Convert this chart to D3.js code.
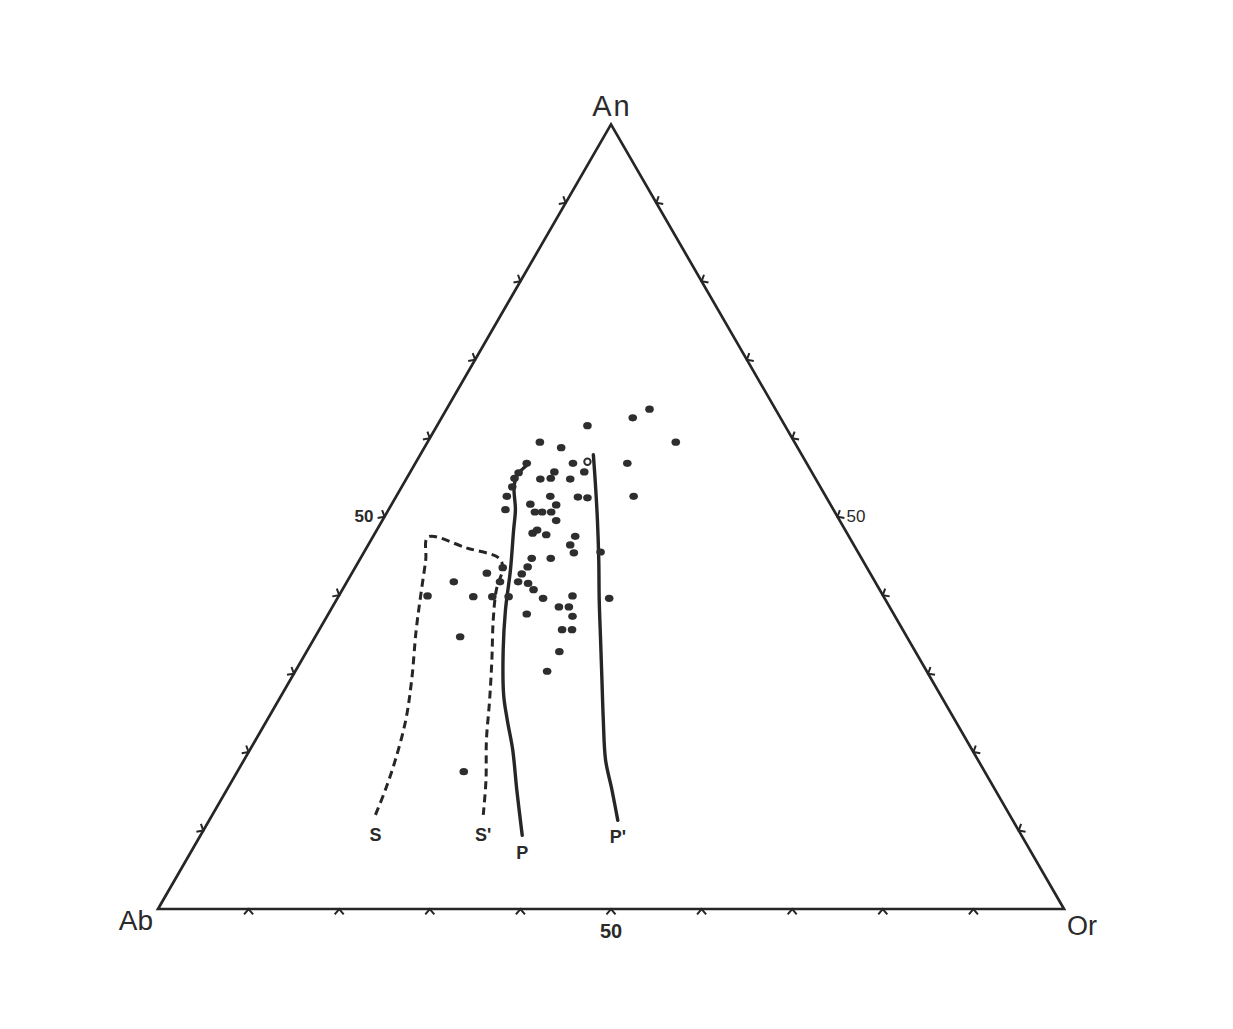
<!DOCTYPE html>
<html>
<head>
<meta charset="utf-8">
<script src="https://cdn.jsdelivr.net/npm/d3@7"></script>
<style>
  html, body { margin: 0; padding: 0; background: #ffffff; }
  svg { display: block; }
  text { font-family: "Liberation Sans", Arial, sans-serif; fill: #2a2a2a; }
</style>
</head>
<body>
<svg id="chart" width="1233" height="1029"></svg>
<script>
// ---------- DATA (ternary percentages: [An, Or], Ab = 100 - An - Or) ----------
const vertexLabels = ["Ab", "An", "Or"];
const tickValues = [10, 20, 30, 40, 50, 60, 70, 80, 90];
const tickLabelValue = 50;

// filled analyses
const dots = [
  [63.7, 22.4], [62.6, 21.1], [61.6, 16.6], [59.5, 27.4], [59.5, 12.4],
  [58.8, 15.1], [56.8, 12.3], [56.8, 17.4], [56.8, 23.4], [55.6, 12.0],
  [54.9, 11.9], [55.7, 19.2], [55.7, 15.9], [54.8, 14.8], [54.9, 15.9],
  [54.8, 18.1], [53.8, 12.2], [52.6, 12.2], [52.6, 17.0], [52.5, 20.1],
  [52.4, 21.2], [52.6, 26.2], [51.6, 15.3], [51.5, 18.2], [50.9, 12.9],
  [50.6, 16.3], [50.6, 17.1], [50.6, 18.1], [49.5, 19.2], [47.9, 17.4],
  [48.3, 17.7], [47.7, 19.0], [47.5, 22.3], [46.4, 22.3], [45.4, 23.2],
  [45.5, 26.1], [44.7, 18.9], [44.7, 21.0], [43.6, 19.0], [42.8, 14.9],
  [43.5, 16.3], [42.7, 18.8], [41.7, 11.8], [41.7, 16.9], [41.7, 18.9],
  [41.5, 20.1], [40.7, 21.1], [39.9, 9.8], [39.8, 14.9], [39.8, 17.0],
  [39.8, 18.8], [39.6, 22.7], [39.9, 25.8], [39.6, 30.0], [38.5, 25.0],
  [38.5, 26.1], [37.3, 27.1], [37.6, 21.9], [35.6, 26.8], [35.6, 27.9],
  [34.7, 16.0], [32.8, 27.9], [30.3, 27.8], [17.5, 25.0]
];
// open-circle analysis
const openDots = [[57.0, 18.9]];

// dashed boundary S ... S'
const lineS = [
  [12.0, 18.0], [15.2, 17.5], [19.0, 16.7], [24.1, 15.3], [29.2, 13.4],
  [35.6, 10.7], [40.0, 9.0], [44.5, 7.3], [47.4, 6.1], [46.0, 11.1],
  [44.7, 15.3], [43.5, 16.3], [40.7, 17.0], [36.8, 18.6], [31.7, 21.0],
  [26.6, 23.3], [21.5, 25.5], [16.4, 28.0], [12.0, 29.9]
];
// solid line P
const lineP = [
  [56.5, 12.4], [55.3, 12.0], [53.8, 12.4], [50.9, 14.0], [48.3, 15.1],
  [43.2, 17.3], [38.1, 19.3], [33.0, 21.6], [27.3, 24.5], [24.1, 26.5],
  [20.3, 29.0], [15.2, 32.0], [9.4, 35.5]
];
// solid line P'
const linePp = [
  [57.9, 19.1], [54.7, 20.9], [49.6, 23.7], [44.5, 26.4], [39.4, 29.0],
  [34.3, 31.7], [29.2, 34.4], [24.1, 37.1], [19.0, 39.9], [15.2, 42.5],
  [11.3, 45.1]
];
// end labels
const lineLabels = ["S", "S'", "P", "P'"];

// ---------- LAYOUT ----------
const SQ3 = Math.sqrt(3) / 2;
const left = 158, right = 1064, base = 909;
const side = right - left;
const xScale = d3.scaleLinear().domain([0, 100]).range([left, right]);
const yScale = d3.scaleLinear().domain([0, 100 * SQ3]).range([base, base - side * SQ3]);
const proj = (an, or) => [xScale(or + an / 2), yScale(an * SQ3)];

const svg = d3.select("#chart");
const ink = "#262626";

// triangle
const vAb = proj(0, 0), vOr = proj(0, 100), vAn = proj(100, 0);
svg.append("path")
  .attr("d", d3.line()([vAb, vOr, vAn, vAb]) + "Z")
  .attr("fill", "none").attr("stroke", ink).attr("stroke-width", 2.7)
  .attr("stroke-linejoin", "miter");

// tick chevrons on the outside of each edge
function chevron(p, nx, ny) {
  const L = 7, ang = 0.7;
  const c = Math.cos(ang), s = Math.sin(ang);
  const a = [p[0] + L * (nx * c - ny * s), p[1] + L * (nx * s + ny * c)];
  const b = [p[0] + L * (nx * c + ny * s), p[1] + L * (-nx * s + ny * c)];
  return d3.line()([a, p, b]);
}
const ticks = svg.append("g").attr("fill", "none").attr("stroke", ink).attr("stroke-width", 2);
tickValues.forEach(v => {
  ticks.append("path").attr("d", chevron(proj(0, v), 0, 1));
  ticks.append("path").attr("d", chevron(proj(v, 0), -SQ3, -0.5));
  ticks.append("path").attr("d", chevron(proj(v, 100 - v), SQ3, -0.5));
});

// "50" tick labels
const pB = proj(0, tickLabelValue), pL = proj(tickLabelValue, 0), pR = proj(tickLabelValue, 100 - tickLabelValue);
svg.append("text").attr("x", pB[0]).attr("y", pB[1] + 29).attr("text-anchor", "middle")
  .attr("font-size", 20).attr("font-weight", "bold").text(String(tickLabelValue));
svg.append("text").attr("x", pL[0] - 11).attr("y", pL[1] + 5).attr("text-anchor", "end")
  .attr("font-size", 17).attr("font-weight", "bold").text(String(tickLabelValue));
svg.append("text").attr("x", pR[0] + 9).attr("y", pR[1] + 5).attr("text-anchor", "start")
  .attr("font-size", 17).text(String(tickLabelValue));

// vertex labels
svg.append("text").attr("x", vAn[0] + 1).attr("y", vAn[1] - 8).attr("text-anchor", "middle")
  .attr("font-size", 29).attr("letter-spacing", 2).text(vertexLabels[1]);
svg.append("text").attr("x", vAb[0] - 5).attr("y", vAb[1] + 21).attr("text-anchor", "end")
  .attr("font-size", 28).text(vertexLabels[0]);
svg.append("text").attr("x", vOr[0] + 3).attr("y", vOr[1] + 26).attr("text-anchor", "start")
  .attr("font-size", 27).text(vertexLabels[2]);

// lines
const lineGen = d3.line().x(d => proj(d[0], d[1])[0]).y(d => proj(d[0], d[1])[1])
  .curve(d3.curveCatmullRom.alpha(0.5));
svg.append("path").attr("d", lineGen(lineS)).attr("fill", "none")
  .attr("stroke", ink).attr("stroke-width", 3).attr("stroke-dasharray", "8,5");
svg.append("path").attr("d", lineGen(lineP)).attr("fill", "none")
  .attr("stroke", ink).attr("stroke-width", 3.4).attr("stroke-linecap", "round");
svg.append("path").attr("d", lineGen(linePp)).attr("fill", "none")
  .attr("stroke", ink).attr("stroke-width", 3.4).attr("stroke-linecap", "round");

// dots
svg.append("g").selectAll("ellipse").data(dots).join("ellipse")
  .attr("cx", d => proj(d[0], d[1])[0]).attr("cy", d => proj(d[0], d[1])[1])
  .attr("rx", 4.3).attr("ry", 3.6).attr("fill", "#2e2e2e");
svg.append("g").selectAll("circle").data(openDots).join("circle")
  .attr("cx", d => proj(d[0], d[1])[0]).attr("cy", d => proj(d[0], d[1])[1])
  .attr("r", 3.2).attr("fill", "#fff").attr("stroke", "#2e2e2e").attr("stroke-width", 2);

// line end labels
const ends = [
  { p: proj(...lineS[0]), t: lineLabels[0], dy: 26 },
  { p: proj(...lineS[lineS.length - 1]), t: lineLabels[1], dy: 26 },
  { p: proj(...lineP[lineP.length - 1]), t: lineLabels[2], dy: 24 },
  { p: proj(...linePp[linePp.length - 1]), t: lineLabels[3], dy: 23 }
];
ends.forEach(e => {
  svg.append("text").attr("x", e.p[0]).attr("y", e.p[1] + e.dy).attr("text-anchor", "middle")
    .attr("font-size", 18).attr("font-weight", "bold").text(e.t);
});
</script>
</body>
</html>
